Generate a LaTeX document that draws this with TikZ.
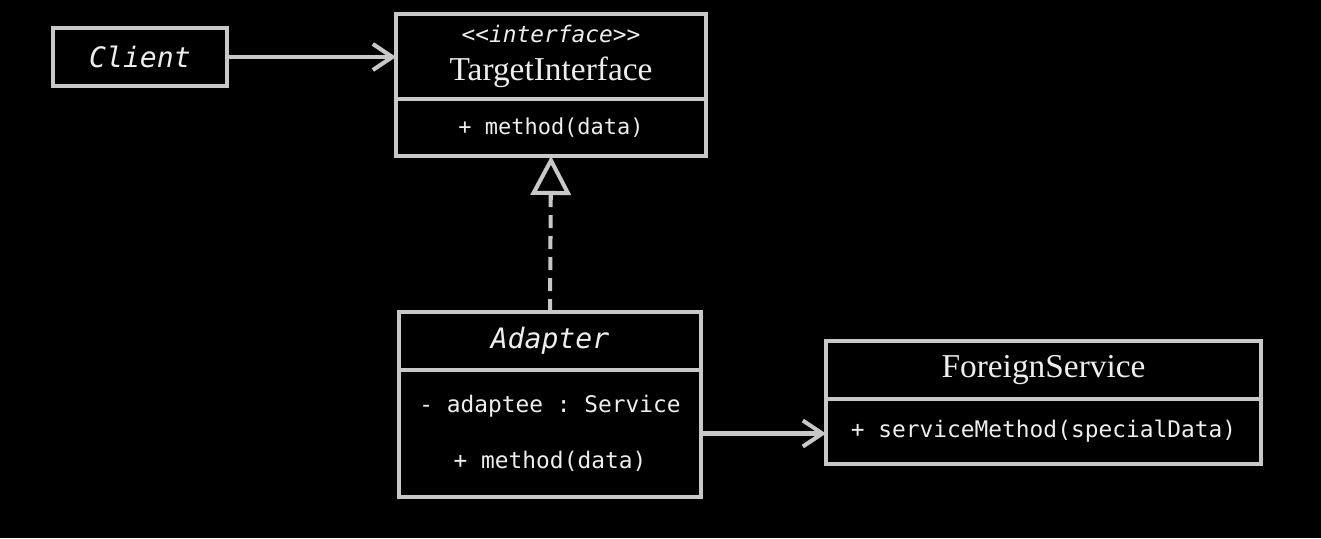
\documentclass[tikz,border=0pt]{standalone}
\usepackage{fontspec}
\setmainfont{Liberation Serif}
\setmonofont{DejaVu Sans Mono}
\usetikzlibrary{arrows.meta, positioning, calc}
\definecolor{umlgray}{RGB}{200,200,200}
\definecolor{umltext}{RGB}{238,238,238}

\begin{document}
\begin{tikzpicture}[
    % Class box styles
    classbox/.style={draw=umlgray, line width=2.3pt, fill=black, text=umltext,
                     inner sep=0pt, outer sep=0pt, align=center},
    titlebox/.style={classbox, font=\fontsize{19}{21}\selectfont},
    bodybox/.style={classbox, font=\ttfamily\fontsize{13}{32}\selectfont},
    % Connector styles
    assoc/.style={draw=umlgray, line width=2.3pt, -{Straight Barb[length=3.9mm, width=5.2mm]}},
    realize/.style={draw=umlgray, line width=2.3pt, dash pattern=on 2.6mm off 1.6mm,
                    -{Triangle[open, length=7.8mm, width=8mm]}}
]

% Background and page size
\fill[black] (0,0) rectangle (26.42,-10.76);
\useasboundingbox (0,0) rectangle (26.42,-10.76);

% Client
\node[classbox, minimum width=3.48cm, minimum height=1.16cm,
      font=\ttfamily\itshape\fontsize{16}{18}\selectfont] (client) at (2.80,-1.14) {Client};

% Target interface
\node[titlebox, minimum width=6.2cm, minimum height=1.70cm] (target) at (11.02,-1.13)
    {{\ttfamily\itshape\fontsize{13}{14}\selectfont <<interface>>}\\[1pt]TargetInterface};
\node[bodybox, minimum width=6.2cm, minimum height=1.14cm,
      font=\ttfamily\fontsize{12.5}{14}\selectfont, below=0pt of target] (targetops) {+ method(data)};

% Adapter
\node[titlebox, minimum width=6.04cm, minimum height=1.16cm,
      font=\ttfamily\itshape\fontsize{16}{18}\selectfont] (adapter) at (11.0,-6.82) {Adapter};
\node[bodybox, minimum width=6.04cm, minimum height=2.54cm, below=0pt of adapter] (adapterops)
    {- adaptee : Service\\+ method(data)};

% Foreign service
\node[titlebox, minimum width=8.7cm, minimum height=1.16cm] (service) at (20.87,-7.40) {ForeignService};
\node[bodybox, minimum width=8.7cm, minimum height=1.30cm, below=0pt of service] (serviceops)
    {+ serviceMethod(specialData)};

% Connectors
\draw[assoc] (client.east) -- (client.east -| target.west);
\draw[realize] (adapter.north) -- (targetops.south);
\draw[assoc] (adapterops.east) -- (adapterops.east -| serviceops.west);

\end{tikzpicture}
\end{document}
